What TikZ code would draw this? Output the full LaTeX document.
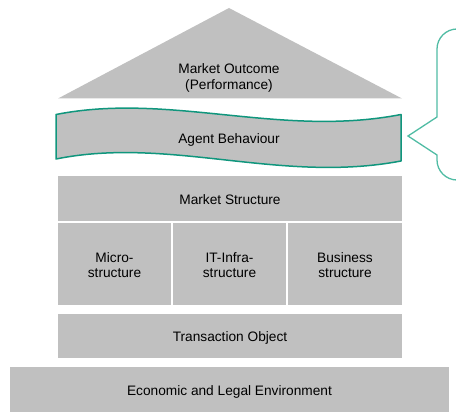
\documentclass[tikz,border=0pt]{standalone}
\usepackage{fontspec}
\setmainfont{Liberation Sans}
\definecolor{boxgray}{RGB}{192,192,192}
\definecolor{tealdark}{RGB}{16,150,125}
\definecolor{teallight}{RGB}{80,188,164}
\begin{document}
\begin{tikzpicture}[x=1pt,y=-1pt,
  lbl/.style={font=\fontsize{13.7}{15.4}\selectfont, align=center, text=black, inner sep=0pt},
  blk/.style={fill=boxgray, draw=none, inner sep=0pt, minimum height=#1},
  blk/.default=44.7pt]
\useasboundingbox (0,0) rectangle (456,420);
% roof
\fill[boxgray] (229,8) -- (402,98.5) -- (58,98.5) -- cycle;
\node[lbl] (outcome) at (229,78) {Market Outcome\\(Performance)};
% banner
\filldraw[fill=boxgray, draw=tealdark, line width=1.5pt, line join=round]
  (56,114.5) .. controls (170,92) and (280,138) .. (401,114.5)
  -- (401,161) .. controls (280,184) and (170,136) .. (56,159) -- cycle;
\node[lbl, anchor=base] (agent) at (229,143) {Agent Behaviour};
% callout
\draw[teallight, line width=1.3pt, line join=miter]
  (460,29) -- (457,29) .. controls (446,29) and (437,38) .. (437,49)
  -- (437,117) -- (408,136) -- (437,155) -- (437,160)
  .. controls (437,171) and (446,180) .. (457,180) -- (460,180);
% boxes
\node[blk, minimum width=344pt] (ms) at (230,198.3) {};
\node[lbl, anchor=base] (mst) at (230,204.7) {Market Structure};
\node[blk=82pt, minimum width=113pt] (micro) at (114.5,263.7) {};
\node[lbl] (microt) at (114.5,265) {Micro-\\structure};
\node[blk=82pt, minimum width=113pt] (it) at (229.5,263.7) {};
\node[lbl] (itt) at (229.5,265) {IT-Infra-\\structure};
\node[blk=82pt, minimum width=114pt] (bus) at (345,263.7) {};
\node[lbl] (bust) at (345,265) {Business\\structure};
\node[blk=44.3pt, minimum width=344pt] (to) at (230,336.2) {};
\node[lbl, anchor=base] (tot) at (230,341) {Transaction Object};
\node[blk=45pt, minimum width=439pt] (env) at (229.5,389.2) {};
\node[lbl, anchor=base] (envt) at (229.5,395.3) {Economic and Legal Environment};
\end{tikzpicture}
\end{document}
